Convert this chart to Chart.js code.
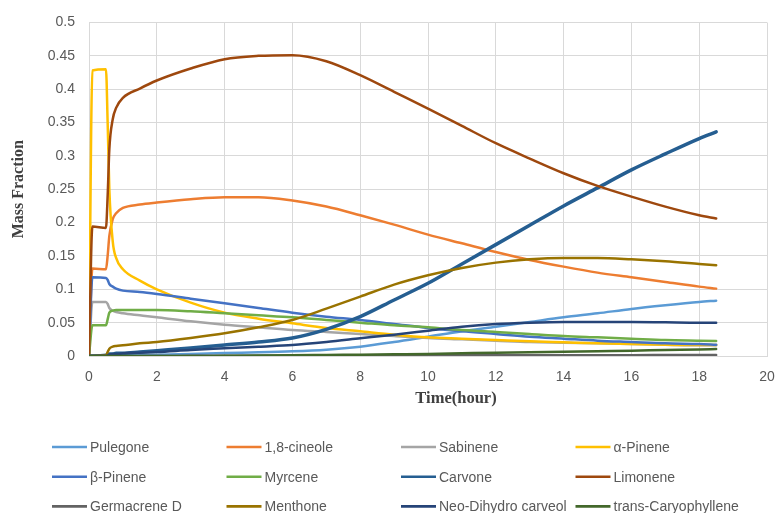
<!DOCTYPE html>
<html>
<head>
<meta charset="utf-8">
<script src="https://cdn.jsdelivr.net/npm/chart.js@4.4.1/dist/chart.umd.min.js"></script>
<style>
  html, body { margin: 0; padding: 0; background: #ffffff; }
  #wrap { position: relative; width: 775px; height: 513px; }
</style>
</head>
<body>
<div id="wrap"><canvas id="c" width="775" height="513"></canvas></div>
<script>
// Sampling times (hours)
const times = [0, 0.1, 0.5, 0.55, 0.6, 0.7, 0.8, 1, 1.5, 2, 3, 4, 5, 6, 7, 8, 9, 10, 11, 12, 13, 14, 15, 16, 17, 18, 18.5];

// Mass fraction of each compound at the sampling times
const pulegone = [0, 0, 0, 0, 0, 0, 0, 0.001, 0.0015, 0.002, 0.003, 0.0045, 0.0055, 0.007, 0.0095, 0.014, 0.021, 0.029, 0.037, 0.044, 0.051, 0.058, 0.064, 0.0705, 0.076, 0.081, 0.083];
const cineole = [0, 0.131, 0.130, 0.15, 0.18, 0.205, 0.214, 0.222, 0.227, 0.230, 0.235, 0.238, 0.238, 0.233, 0.224, 0.211, 0.197, 0.182, 0.169, 0.156, 0.144, 0.134, 0.125, 0.118, 0.111, 0.104, 0.101];
const sabinene = [0, 0.081, 0.081, 0.078, 0.072, 0.068, 0.066, 0.064, 0.061, 0.058, 0.052, 0.047, 0.043, 0.039, 0.036, 0.033, 0.030, 0.027, 0.025, 0.023, 0.021, 0.020, 0.019, 0.018, 0.017, 0.016, 0.016];
const alphaPinene = [0, 0.428, 0.430, 0.35, 0.25, 0.172, 0.147, 0.130, 0.113, 0.100, 0.080, 0.065, 0.056, 0.049, 0.042, 0.037, 0.032, 0.028, 0.026, 0.024, 0.022, 0.0205, 0.019, 0.018, 0.017, 0.0165, 0.0165];
const betaPinene = [0, 0.118, 0.117, 0.114, 0.108, 0.104, 0.101, 0.098, 0.096, 0.093, 0.086, 0.079, 0.072, 0.065, 0.059, 0.054, 0.048, 0.042, 0.037, 0.033, 0.029, 0.026, 0.023, 0.021, 0.019, 0.018, 0.017];
const myrcene = [0, 0.046, 0.046, 0.055, 0.065, 0.068, 0.069, 0.069, 0.069, 0.069, 0.067, 0.064, 0.061, 0.058, 0.054, 0.050, 0.046, 0.043, 0.039, 0.036, 0.033, 0.030, 0.028, 0.026, 0.024, 0.023, 0.0225];
const carvone = [0, 0, 0.001, 0.002, 0.003, 0.003, 0.004, 0.004, 0.006, 0.008, 0.012, 0.0165, 0.021, 0.027, 0.040, 0.059, 0.084, 0.109, 0.138, 0.167, 0.196, 0.225, 0.252, 0.279, 0.303, 0.326, 0.336];
const limonene = [0, 0.194, 0.192, 0.24, 0.31, 0.355, 0.372, 0.387, 0.401, 0.413, 0.431, 0.445, 0.450, 0.451, 0.442, 0.421, 0.396, 0.371, 0.345, 0.319, 0.296, 0.274, 0.255, 0.239, 0.224, 0.211, 0.206];
const germacreneD = [0, 0, 0, 0, 0, 0, 0, 0, 0, 0, 0.0003, 0.0005, 0.0005, 0.0006, 0.0007, 0.0008, 0.0008, 0.0009, 0.001, 0.001, 0.001, 0.0012, 0.0013, 0.0013, 0.0014, 0.0015, 0.0015];
const menthone = [0, 0, 0.001, 0.006, 0.011, 0.014, 0.015, 0.016, 0.019, 0.021, 0.027, 0.034, 0.043, 0.054, 0.071, 0.089, 0.107, 0.121, 0.132, 0.140, 0.145, 0.147, 0.147, 0.145, 0.142, 0.138, 0.136];
const neoDihydroCarveol = [0, 0, 0, 0.001, 0.002, 0.003, 0.003, 0.004, 0.005, 0.006, 0.009, 0.0115, 0.014, 0.0165, 0.021, 0.0265, 0.032, 0.038, 0.044, 0.048, 0.050, 0.051, 0.051, 0.051, 0.0505, 0.050, 0.050];
const transCaryophyllene = [0, 0, 0, 0, 0, 0, 0, 0, 0, 0, 0, 0.0003, 0.0006, 0.001, 0.0015, 0.002, 0.0025, 0.003, 0.004, 0.005, 0.0058, 0.0065, 0.0073, 0.008, 0.009, 0.0098, 0.0104];

// Axis tick labels
const xTickLabels = ['0', '2', '4', '6', '8', '10', '12', '14', '16', '18', '20'];
const yTickLabels = ['0', '0.05', '0.1', '0.15', '0.2', '0.25', '0.3', '0.35', '0.4', '0.45', '0.5'];

const seriesList = [
  { label: 'Pulegone', values: pulegone, color: '#5B9BD5' },
  { label: '1,8-cineole', values: cineole, color: '#ED7D31' },
  { label: 'Sabinene', values: sabinene, color: '#A5A5A5' },
  { label: 'α-Pinene', values: alphaPinene, color: '#FFC000' },
  { label: 'β-Pinene', values: betaPinene, color: '#4472C4' },
  { label: 'Myrcene', values: myrcene, color: '#70AD47' },
  { label: 'Carvone', values: carvone, color: '#255E91', width: 3.5 },
  { label: 'Limonene', values: limonene, color: '#9E480E' },
  { label: 'Germacrene D', values: germacreneD, color: '#636363' },
  { label: 'Menthone', values: menthone, color: '#997300' },
  { label: 'Neo-Dihydro carveol', values: neoDihydroCarveol, color: '#264478' },
  { label: 'trans-Caryophyllene', values: transCaryophyllene, color: '#43682B' }
];

const TEXT_COLOR = '#595959';
const GRID_COLOR = '#D9D9D9';
const SANS = '"Liberation Sans", Arial, sans-serif';
const SERIF = '"Liberation Serif", "Times New Roman", serif';

const datasets = seriesList.map((s, i) => ({
  label: s.label,
  data: times.map((t, k) => ({ x: t, y: s.values[k] })),
  borderColor: s.color,
  backgroundColor: s.color,
  borderWidth: s.width || 2.5,
  borderCapStyle: 'round',
  borderJoinStyle: 'round',
  pointRadius: 0,
  pointHoverRadius: 0,
  fill: false,
  cubicInterpolationMode: 'monotone',
  order: seriesList.length - i   // later series are painted on top
}));

// Bottom axis title, centred a little right of the plot centre
const xTitlePlugin = {
  id: 'xTitle',
  afterDraw(chart) {
    const { ctx, chartArea } = chart;
    ctx.save();
    ctx.font = 'bold 16.5px ' + SERIF;
    ctx.fillStyle = '#404040';
    ctx.textAlign = 'center';
    ctx.textBaseline = 'middle';
    ctx.fillText('Time(hour)', (chartArea.left + chartArea.right) / 2 + 28, chartArea.bottom + 43);
    ctx.restore();
  }
};

// Four-column legend below the plot
const gridLegendPlugin = {
  id: 'gridLegend',
  afterDraw(chart) {
    const ctx = chart.ctx;
    ctx.save();
    ctx.font = '14px ' + SANS;
    ctx.textBaseline = 'middle';
    ctx.textAlign = 'left';
    chart.data.datasets.forEach((ds, i) => {
      const col = i % 4;
      const row = Math.floor(i / 4);
      const x = 52 + col * 174.5;
      const y = 447 + row * 29.7;
      ctx.strokeStyle = ds.borderColor;
      ctx.lineWidth = 2.6;
      ctx.lineCap = 'butt';
      ctx.beginPath();
      ctx.moveTo(x, y);
      ctx.lineTo(x + 35, y);
      ctx.stroke();
      ctx.fillStyle = TEXT_COLOR;
      ctx.fillText(ds.label, x + 38, y + 1);
    });
    ctx.restore();
  }
};

new Chart(document.getElementById('c'), {
  type: 'line',
  data: { datasets },
  plugins: [xTitlePlugin, gridLegendPlugin],
  options: {
    responsive: false,
    animation: false,
    devicePixelRatio: 1,
    layout: { padding: { left: 0, right: 8, top: 22.5, bottom: 101 } },
    plugins: {
      legend: { display: false },
      tooltip: { enabled: false },
      title: { display: false }
    },
    scales: {
      x: {
        type: 'linear',
        min: 0,
        max: 20,
        afterFit(scale) { scale.height = 56; },
        ticks: {
          stepSize: 2,
          color: TEXT_COLOR,
          font: { family: SANS, size: 14 },
          padding: 0,
          maxRotation: 0,
          callback: (v, i) => xTickLabels[i] !== undefined ? xTickLabels[i] : String(v)
        },
        grid: { color: GRID_COLOR, lineWidth: 1, drawTicks: true, tickLength: 13, tickColor: 'rgba(0,0,0,0)' },
        border: { color: GRID_COLOR, width: 1 }
      },
      y: {
        type: 'linear',
        min: 0,
        max: 0.5,
        afterFit(scale) { scale.width = 89; },
        ticks: {
          stepSize: 0.05,
          color: TEXT_COLOR,
          font: { family: SANS, size: 14 },
          padding: 0,
          callback: (v, i) => yTickLabels[i] !== undefined ? yTickLabels[i] : String(v)
        },
        grid: { color: GRID_COLOR, lineWidth: 1, drawTicks: true, tickLength: 14, tickColor: 'rgba(0,0,0,0)' },
        border: { color: GRID_COLOR, width: 1 },
        title: {
          display: true,
          text: 'Mass Fraction',
          color: '#404040',
          font: { family: SERIF, size: 16, weight: 'bold' },
          padding: { top: 9, bottom: 0 }
        }
      }
    }
  }
});
</script>
</body>
</html>
